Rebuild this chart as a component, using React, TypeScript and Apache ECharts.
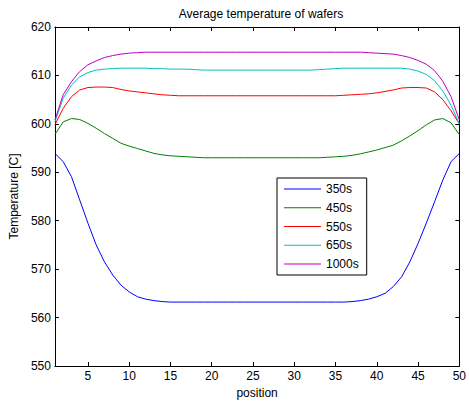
import React, { useEffect, useRef } from "react";
import * as echarts from "echarts";

const positions = Array.from({ length: 50 }, (_, i) => i + 1);
const seriesNames = ["350s", "450s", "550s", "650s", "1000s"];
const seriesColors = ["#0000ff", "#008000", "#ff0000", "#00bfbf", "#bf00bf"];
const xTicks = [5, 10, 15, 20, 25, 30, 35, 40, 45, 50];

const t350 = [
  593.9, 592.2, 589.1, 584.3, 579.5, 575.0, 571.5, 568.8, 566.7, 565.3,
  564.3, 563.8, 563.5, 563.3, 563.2, 563.2, 563.2, 563.2, 563.2, 563.2,
  563.2, 563.2, 563.2, 563.2, 563.2, 563.2, 563.2, 563.2, 563.2, 563.2,
  563.2, 563.2, 563.2, 563.2, 563.2, 563.2, 563.3, 563.5, 563.8, 564.3,
  565.0, 566.4, 568.4, 571.5, 575.3, 579.5, 583.9, 588.4, 592.2, 593.9,
];
const t450 = [
  597.8, 600.4, 601.1, 600.9, 600.1, 599.1, 598.0, 597.0, 596.0, 595.4,
  594.9, 594.4, 593.9, 593.6, 593.4, 593.3, 593.2, 593.1, 593.0, 593.0,
  593.0, 593.0, 593.0, 593.0, 593.0, 593.0, 593.0, 593.0, 593.0, 593.0,
  593.0, 593.0, 593.0, 593.1, 593.2, 593.3, 593.5, 593.8, 594.2, 594.6,
  595.1, 595.6, 596.5, 597.5, 598.6, 599.8, 600.8, 601.1, 600.2, 597.8,
];
const t550 = [
  599.8, 603.2, 605.6, 607.0, 607.5, 607.6, 607.6, 607.5, 607.1, 606.8,
  606.6, 606.4, 606.2, 606.0, 605.9, 605.8, 605.8, 605.8, 605.8, 605.8,
  605.8, 605.8, 605.8, 605.8, 605.8, 605.8, 605.8, 605.8, 605.8, 605.8,
  605.8, 605.8, 605.8, 605.8, 605.8, 605.9, 606.0, 606.1, 606.2, 606.4,
  606.7, 607.0, 607.4, 607.5, 607.5, 607.4, 606.6, 605.0, 602.7, 600.0,
];
const t650 = [
  600.4, 605.3, 608.0, 609.7, 610.6, 611.1, 611.3, 611.4, 611.5, 611.5,
  611.5, 611.5, 611.4, 611.4, 611.3, 611.3, 611.3, 611.2, 611.1, 611.1,
  611.1, 611.1, 611.1, 611.1, 611.1, 611.1, 611.1, 611.1, 611.1, 611.1,
  611.1, 611.1, 611.2, 611.3, 611.4, 611.5, 611.5, 611.5, 611.5, 611.5,
  611.5, 611.5, 611.5, 611.3, 610.9, 610.2, 608.9, 606.8, 603.8, 600.0,
];
const t1000 = [
  600.8, 606.0, 608.7, 610.8, 612.2, 613.0, 613.7, 614.1, 614.4, 614.6,
  614.7, 614.8, 614.8, 614.8, 614.8, 614.8, 614.8, 614.8, 614.8, 614.8,
  614.8, 614.8, 614.8, 614.8, 614.8, 614.8, 614.8, 614.8, 614.8, 614.8,
  614.8, 614.8, 614.8, 614.8, 614.8, 614.8, 614.8, 614.8, 614.7, 614.6,
  614.5, 614.4, 614.1, 613.7, 613.1, 612.3, 611.0, 608.8, 605.6, 600.8,
];
const allSeries = [t350, t450, t550, t650, t1000];

const FONT = "Liberation Sans, Arial, sans-serif";

export default function App() {
  const ref = useRef<HTMLDivElement>(null);
  useEffect(() => {
    if (!ref.current) return;
    const chart = echarts.init(ref.current, undefined, { renderer: "svg" });
    const axisLine = { show: true, lineStyle: { color: "#000", width: 1 } };
    const tickStyle = { inside: true, length: 4, lineStyle: { color: "#000" } };
    const labelStyle = { fontFamily: FONT, fontSize: 12, color: "#000" };
    chart.setOption({
      animation: false,
      backgroundColor: "#fff",
      title: {
        text: "Average temperature of wafers",
        left: 256,
        textAlign: "center",
        top: 3,
        textStyle: { ...labelStyle, fontWeight: "normal" },
      },
      grid: { left: 52, right: 8, top: 27, bottom: 40, containLabel: false },
      legend: {
        left: 277,
        top: 178,
        orient: "vertical",
        icon: "rect",
        itemWidth: 37,
        itemHeight: 1,
        itemGap: 4.75,
        padding: [4, 8, 4, 7],
        borderColor: "#000",
        borderWidth: 1,
        backgroundColor: "#fff",
        borderRadius: 0,
        textStyle: { ...labelStyle, lineHeight: 14 },
        data: seriesNames,
      },
      xAxis: [
        {
          type: "value",
          min: 1,
          max: 50,
          name: "position",
          nameLocation: "middle",
          nameGap: 21,
          nameTextStyle: labelStyle,
          axisLine,
          axisTick: { ...tickStyle, customValues: xTicks },
          axisLabel: { ...labelStyle, customValues: xTicks, margin: 4 },
          splitLine: { show: false },
        },
        {
          type: "value",
          position: "top",
          min: 1,
          max: 50,
          axisLine,
          axisTick: { ...tickStyle, customValues: xTicks },
          axisLabel: { show: false },
          splitLine: { show: false },
        },
      ],
      yAxis: [
        {
          type: "value",
          min: 550,
          max: 620,
          interval: 10,
          name: "Temperature [C]",
          nameLocation: "middle",
          nameGap: 29,
          nameTextStyle: labelStyle,
          axisLine,
          axisTick: tickStyle,
          axisLabel: { ...labelStyle, margin: 4 },
          splitLine: { show: false },
        },
        {
          type: "value",
          position: "right",
          min: 550,
          max: 620,
          interval: 10,
          axisLine,
          axisTick: tickStyle,
          axisLabel: { show: false },
          splitLine: { show: false },
        },
      ],
      series: seriesNames.map((name, i) => ({
        name,
        type: "line",
        symbol: "none",
        color: seriesColors[i],
        lineStyle: { width: 1, color: seriesColors[i] },
        data: positions.map((p, j) => [p, allSeries[i][j]]),
      })),
    });
    return () => chart.dispose();
  }, []);
  return (
    <div
      ref={ref}
      style={{ position: "absolute", left: 0, top: 0, width: 469, height: 406 }}
    />
  );
}
